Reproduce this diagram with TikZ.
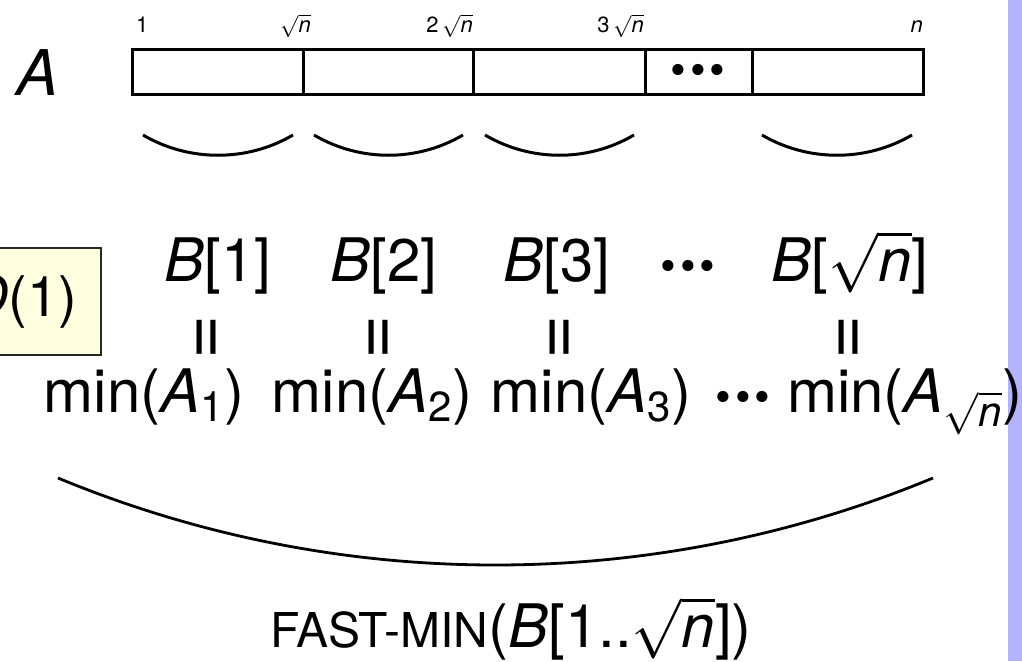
\RequirePackage{fix-cm}
\documentclass[tikz,border=0pt]{standalone}
\usepackage{fontspec}
\setmainfont{TeX Gyre Heros}
\newcommand{\rootn}{\ensuremath{\sqrt{\textit{n}}}}
% three spaced heavy dots
\newcommand{\bdots}{{\fontsize{45}{50}\selectfont\textbullet\kern4pt\textbullet\kern4pt\textbullet}}
\definecolor{barblue}{RGB}{179,179,255}
\definecolor{noteyellow}{RGB}{255,255,224}
\definecolor{noteedge}{RGB}{40,40,40}
\tikzset{
  big/.style={font=\fontsize{60}{72}\selectfont, inner sep=0pt, anchor=base},
  small/.style={font=\fontsize{22}{26}\selectfont, inner sep=0pt},
  eqsign/.style={font=\fontsize{76}{84}\selectfont, inner sep=0pt, rotate=90},
  arrayline/.style={line width=3pt},
  brace/.style={line width=3pt},
  bigbrace/.style={line width=2.8pt},
  notebox/.style={draw=noteedge, fill=noteyellow, line width=2pt,
    font=\fontsize{56}{66}\selectfont, inner xsep=24pt, minimum height=107pt}
}
\begin{document}
\begin{tikzpicture}[x=1pt,y=-1pt]
\useasboundingbox (0,0) rectangle (1022,661);
% side bar
\fill[barblue] (1008,0) rectangle (1022,661);

% the array A
\node[big, font=\fontsize{63}{72}\selectfont] (lblA) at (38,95) {\textit{A}};
\draw[arrayline] (132,50) rectangle (923,94);
\foreach \x in {303,473,645,752} \draw[arrayline] (\x,50) -- (\x,94);
\node[inner sep=0pt, anchor=base] (celldots) at (698,85) {\bdots};

% index labels
\node[small, anchor=base west] (i1) at (136,33) {1};
\node[small, anchor=base east] (i2) at (311,33) {\rootn};
\node[small, anchor=base east] (i3) at (473,33) {2\,\rootn};
\node[small, anchor=base east] (i4) at (644,33) {3\,\rootn};
\node[small, anchor=base east] (i5) at (923,33) {\textit{n}};

% braces under each block
\foreach \a/\b [count=\k] in {143/293,314/463,485/634,762/912} {
  \coordinate (bl\k) at (\a,135);
  \coordinate (br\k) at (\b,135);
  \draw[brace] (bl\k) .. controls ({\a+46},162) and ({\b-46},162) .. (br\k);
}

% cost note
\node[notebox, anchor=east] (cost) at (102,301.5) {\textit{O}(1)};

% block minima
\node[big] (b1) at (218,281) {\textit{B}[1]};
\node[big] (b2) at (384,281) {\textit{B}[2]};
\node[big] (b3) at (557,281) {\textit{B}[3]};
\node[big] (bd) at (688,281) {\bdots};
\node[big] (bn) at (850,281) {\textit{B}[\rootn]};

\node[eqsign] (e1) at (211,337) {=};
\node[eqsign] (e2) at (383,337) {=};
\node[eqsign] (e3) at (564,337) {=};
\node[eqsign] (e4) at (853,337) {=};

\node[big] (m1) at (144,412) {min(\textit{A}\textsubscript{1})};
\node[big] (m2) at (372,412) {min(\textit{A}\textsubscript{2})};
\node[big] (m3) at (591,412) {min(\textit{A}\textsubscript{3})};
\node[big] (md) at (743,412) {\bdots};
\node[big] (mn) at (905,412) {min(\textit{A}\textsubscript{\rootn})};

% brace over all minima
\coordinate (L) at (58,478);
\coordinate (R) at (933,478);
\draw[bigbrace] (L) .. controls (338,594) and (653,594) .. (R);

\node[big] (fm) at (511,647) {{\fontsize{48}{56}\selectfont FAST-MIN}(\textit{B}[1..\rootn])};
\end{tikzpicture}
\end{document}
